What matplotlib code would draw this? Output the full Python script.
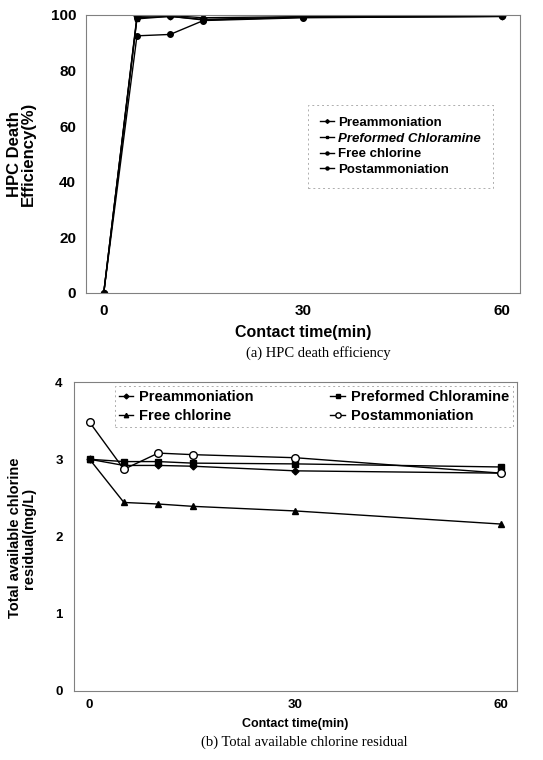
import matplotlib
matplotlib.use('Agg')
import matplotlib.pyplot as plt

plt.rcParams['font.family'] = ['Liberation Sans', 'DejaVu Sans']

# contact time (min)
time = [0, 5, 10, 15, 30, 60]

# (a) HPC death efficiency (%)
hpc_pre = [0, 99.5, 99.8, 99.0, 99.4, 99.5]
hpc_preformed = [0, 98.6, 99.5, 98.4, 99.3, 99.5]
hpc_free = [0, 92.5, 93.0, 98.0, 99.0, 99.5]
hpc_post = [0, 99.0, 99.5, 98.2, 99.2, 99.5]

# (b) total available chlorine residual (mg/L)
res_pre = [3.0, 2.92, 2.92, 2.91, 2.85, 2.82]
res_preformed = [3.0, 2.97, 2.97, 2.95, 2.94, 2.90]
res_free = [3.0, 2.44, 2.42, 2.39, 2.33, 2.16]
res_post = [3.48, 2.87, 3.08, 3.06, 3.02, 2.82]

labels = ['Preammoniation', 'Preformed Chloramine', 'Free chlorine', 'Postammoniation']
serif = ['Liberation Serif', 'DejaVu Serif']

fig = plt.figure(figsize=(5.43, 7.6), dpi=100)

def style_axes(ax, size, xpad, ypad):
    for s in ax.spines.values():
        s.set_color('#808080')
        s.set_linewidth(0.8)
    ax.tick_params(axis='x', length=0, labelsize=size, pad=xpad)
    ax.tick_params(axis='y', length=0, labelsize=size, pad=ypad)
    for t in ax.get_xticklabels() + ax.get_yticklabels():
        t.set_fontweight('bold')

def dashed_frame(leg):
    fr = leg.get_frame()
    fr.set_edgecolor('#999999')
    fr.set_linestyle((0, (2, 3)))
    fr.set_linewidth(0.7)

# ---- top panel ----
ax1 = fig.add_axes([0.158, 0.6145, 0.799, 0.3658])
ax1.plot(time, hpc_pre, color='black', lw=1.0, marker='D', ms=3.5, label=labels[0])
ax1.plot(time, hpc_preformed, color='black', lw=1.0, marker='s', ms=3.5, label=labels[1])
ax1.plot(time, hpc_free, color='black', lw=1.0, marker='o', ms=4, label=labels[2])
ax1.plot(time, hpc_post, color='black', lw=1.0, marker='o', ms=4, label=labels[3])
ax1.set_xlim(-2.7, 62.6)
ax1.set_ylim(0, 100)
ax1.set_xticks([0, 30, 60])
ax1.set_yticks([0, 20, 40, 60, 80, 100])
style_axes(ax1, 11, 8, 7)
ax1.set_xlabel('Contact time(min)', fontsize=11.5, fontweight='bold', labelpad=5)
ax1.set_ylabel('HPC Death\nEfficiency(%)', fontsize=12, fontweight='bold', linespacing=0.95)
ax1.yaxis.set_label_coords(-0.115, 0.50)
h, l = ax1.get_legend_handles_labels()
leg1 = ax1.legend(h, l, loc='upper left', bbox_to_anchor=(0.498, 0.70),
                  prop={'weight': 'bold', 'size': 9.5}, frameon=True, fancybox=False,
                  handlelength=1.0, handletextpad=0.35, labelspacing=0.25,
                  borderpad=0.9, markerscale=0.55)
dashed_frame(leg1)
leg1.get_texts()[1].set_fontstyle('italic')
fig.text(0.586, 0.5355, '(a) HPC death efficiency', family=serif,
         fontsize=10.5, ha='center', va='center')

# ---- bottom panel ----
ax2 = fig.add_axes([0.136, 0.0912, 0.816, 0.406])
ax2.plot(time, res_pre, color='black', lw=1.0, marker='D', ms=3.5, label=labels[0])
ax2.plot(time, res_free, color='black', lw=1.0, marker='^', ms=4.5, label=labels[2])
ax2.plot(time, res_preformed, color='black', lw=1.0, marker='s', ms=4.5, label=labels[1])
ax2.plot(time, res_post, color='black', lw=1.0, marker='o', ms=5.5, mfc='white', label=labels[3])
ax2.set_xlim(-2.3, 62.3)
ax2.set_ylim(0, 4)
ax2.set_xticks([0, 30, 60])
ax2.set_yticks([0, 1, 2, 3, 4])
style_axes(ax2, 9.5, 6, 8)
ax2.set_xlabel('Contact time(min)', fontsize=9, fontweight='bold', labelpad=5)
ax2.set_ylabel('Total available chlorine\nresidual(mg/L)', fontsize=10.5, fontweight='bold',
               linespacing=1.0)
ax2.yaxis.set_label_coords(-0.085, 0.495)
h, l = ax2.get_legend_handles_labels()
leg2 = ax2.legend(h, l, loc='upper left', bbox_to_anchor=(0.0926, 0.848, 0.898, 0.139),
                  mode='expand', ncol=2,
                  prop={'weight': 'bold', 'size': 10.5}, frameon=True, fancybox=False,
                  handlelength=1.0, handletextpad=0.4, labelspacing=0.35,
                  borderpad=0.25, markerscale=0.7, borderaxespad=0)
dashed_frame(leg2)
fig.text(0.56, 0.0237, '(b) Total available chlorine residual', family=serif,
         fontsize=10.5, ha='center', va='center')

fig.savefig('out.png', dpi=100)
